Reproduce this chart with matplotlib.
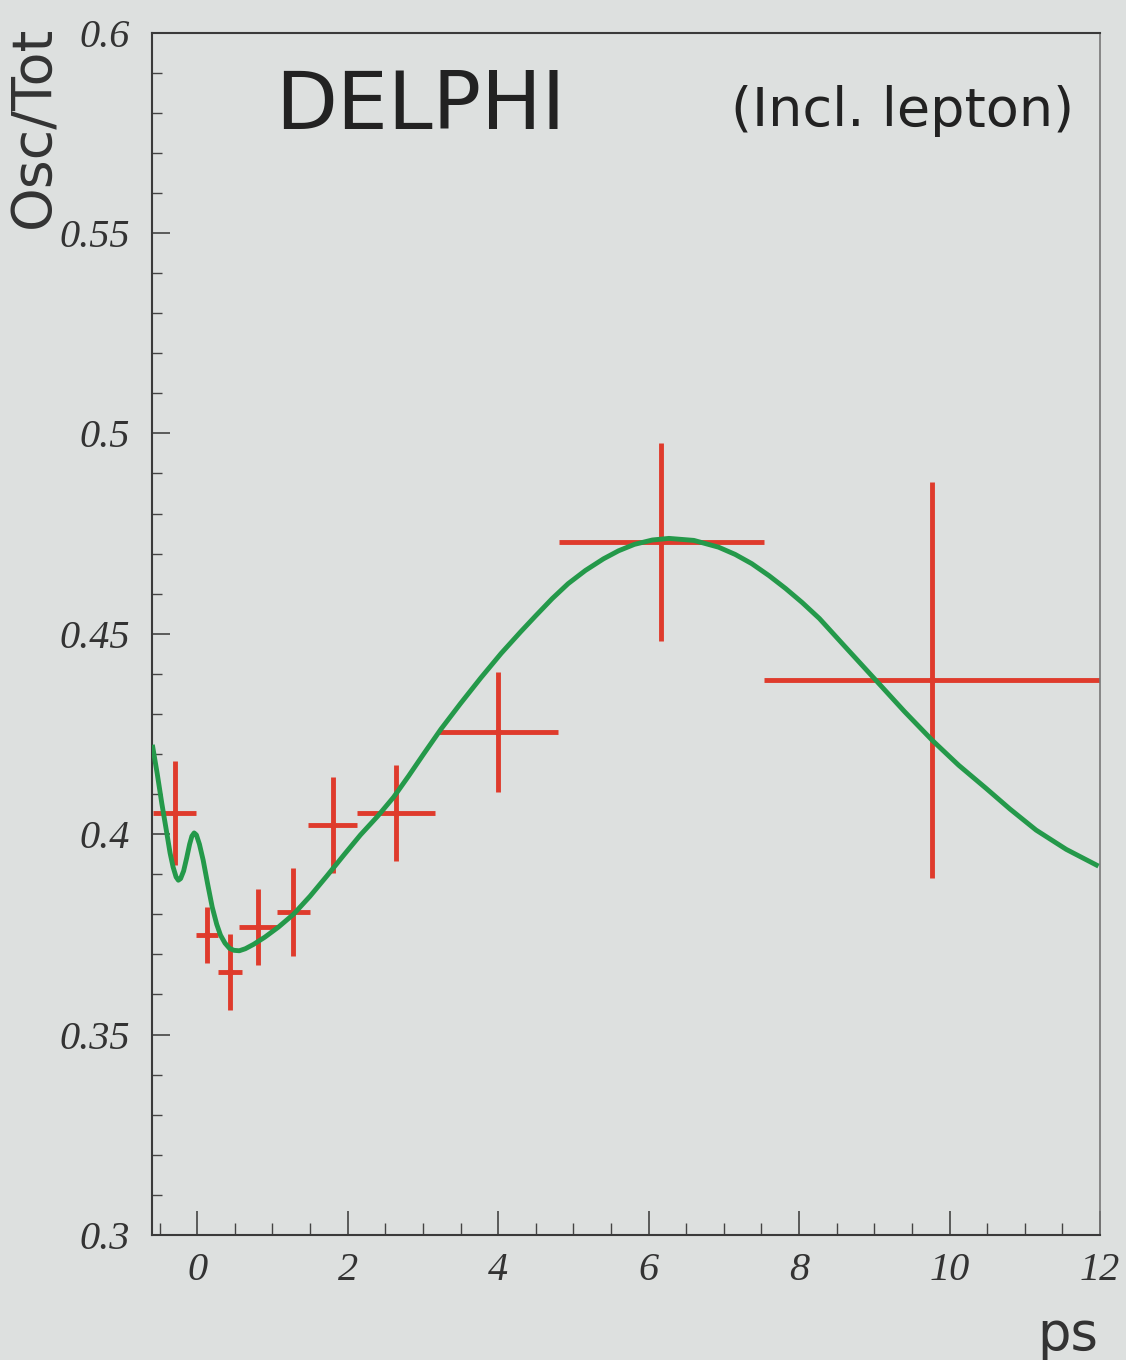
import matplotlib
matplotlib.use("Agg")
import matplotlib.pyplot as plt
from matplotlib.ticker import MultipleLocator

# data points (ps, Osc/Tot)
t_ps = [-0.30, 0.13, 0.44, 0.81, 1.28, 1.80, 2.64, 4.00, 6.17, 9.77]
t_err = [0.29, 0.15, 0.16, 0.25, 0.22, 0.33, 0.52, 0.80, 1.36, 2.24]
frac = [0.4052, 0.3748, 0.3656, 0.3768, 0.3806, 0.4022, 0.4052, 0.4254, 0.4728, 0.4384]
frac_err = [0.013, 0.007, 0.0094, 0.0094, 0.011, 0.012, 0.012, 0.015, 0.0247, 0.0494]

# fitted curve
fit_x = [-0.59, -0.53, -0.47, -0.41, -0.36, -0.32, -0.28, -0.25, -0.22, -0.18,
         -0.14, -0.10, -0.07, -0.04, -0.01, 0.03, 0.08, 0.14, 0.20, 0.26,
         0.31, 0.37, 0.43, 0.49, 0.56, 0.64, 0.75, 0.90, 1.08, 1.28, 1.50,
         1.73, 1.95, 2.17, 2.40, 2.61, 2.81, 3.01, 3.24, 3.50, 3.77, 4.04,
         4.30, 4.50, 4.72, 4.93, 5.16, 5.40, 5.60, 5.81, 6.05, 6.27, 6.60,
         6.93, 7.15, 7.37, 7.60, 7.82, 8.04, 8.27, 8.60, 9.01, 9.40, 9.77,
         10.12, 10.48, 10.80, 11.15, 11.55, 11.95]
fit_y = [0.4217, 0.4150, 0.4077, 0.4010, 0.3953, 0.3918, 0.3893, 0.3885, 0.3889, 0.3908,
         0.3940, 0.3975, 0.3995, 0.4003, 0.3998, 0.3975, 0.3935, 0.3875, 0.3818, 0.3775,
         0.3748, 0.3728, 0.3715, 0.3710, 0.3709, 0.3714, 0.3725, 0.3743, 0.3768, 0.3800, 0.3845,
         0.3897, 0.3948, 0.3998, 0.4045, 0.4092, 0.4145, 0.4200, 0.4262, 0.4326, 0.4390, 0.4451,
         0.4505, 0.4545, 0.4588, 0.4625, 0.4658, 0.4687, 0.4707, 0.4723, 0.4734, 0.4738, 0.4733,
         0.4716, 0.4698, 0.4675, 0.4645, 0.4613, 0.4578, 0.4538, 0.4470, 0.4386, 0.4306, 0.4234,
         0.4172, 0.4115, 0.4063, 0.4010, 0.3962, 0.3923]

bg = "#dde0df"
red = "#df3b2c"
green = "#24994a"

fig = plt.figure(figsize=(11.26, 13.6), dpi=100, facecolor=bg)
ax = fig.add_axes([0.135, 0.092, 0.842, 0.884], facecolor=bg)

ax.errorbar(t_ps, frac, xerr=t_err, yerr=frac_err, fmt="o", ms=4,
            color=red, ecolor=red, elinewidth=3.5, capsize=0, zorder=2)
ax.plot(fit_x, fit_y, color=green, lw=3.5, zorder=3, solid_joinstyle="round")

ax.set_xlim(-0.6, 12)
ax.set_ylim(0.3, 0.6)

ax.xaxis.set_major_locator(MultipleLocator(2))
ax.xaxis.set_minor_locator(MultipleLocator(0.5))
ax.yaxis.set_major_locator(MultipleLocator(0.05))
ax.yaxis.set_minor_locator(MultipleLocator(0.01))
ax.set_yticks([0.3, 0.35, 0.4, 0.45, 0.5, 0.55, 0.6])
ax.set_yticklabels(["0.3", "0.35", "0.4", "0.45", "0.5", "0.55", "0.6"])

ax.tick_params(which="both", direction="in", top=False, right=False, colors="#444444")
ax.tick_params(axis="x", which="major", length=17, width=1.2, pad=12)
ax.tick_params(axis="x", which="minor", length=9, width=1.0)
ax.tick_params(axis="y", which="major", length=13, width=1.2, pad=16)
ax.tick_params(axis="y", which="minor", length=7, width=1.0)
for lab in ax.get_xticklabels() + ax.get_yticklabels():
    lab.set_fontfamily("Liberation Serif")
    lab.set_fontstyle("italic")
    lab.set_fontsize(29)
    lab.set_color("#333333")

for side in ["left", "bottom", "top"]:
    ax.spines[side].set_color("#3a3a3a")
    ax.spines[side].set_linewidth(1.5)
ax.spines["right"].set_color("#777777")
ax.spines["right"].set_linewidth(1.2)

ax.text(0.13, 0.938, "DELPHI", transform=ax.transAxes, fontsize=58,
        family="DejaVu Sans", color="#222222", ha="left", va="center")
ax.text(0.973, 0.935, "(Incl. lepton)", transform=ax.transAxes, fontsize=39,
        family="DejaVu Sans", color="#222222", ha="right", va="center")

fig.text(34 / 1126, 1 - 26 / 1360, "Osc/Tot", rotation=90, fontsize=40,
         family="DejaVu Sans", color="#333333", ha="center", va="top")
fig.text(1098 / 1126, 1 - 1335 / 1360, "ps", fontsize=38,
         family="DejaVu Sans", color="#333333", ha="right", va="center")

fig.savefig("out.png", dpi=100, facecolor=bg)
